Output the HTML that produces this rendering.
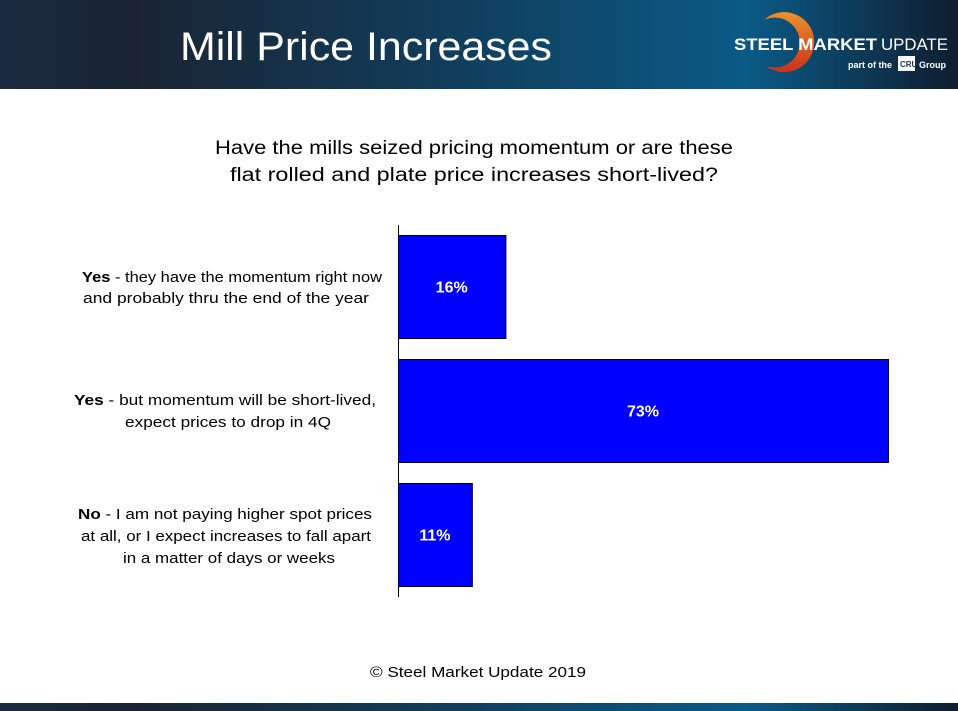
<!DOCTYPE html>
<html><head><meta charset="utf-8"><style>
html,body{margin:0;padding:0;background:#fff;}
svg{display:block;font-family:"Liberation Sans",sans-serif;}
</style></head><body>
<svg id="chart" width="958" height="711" viewBox="0 0 958 711">
<defs>
<linearGradient id="hg" x1="0" x2="1" y1="0" y2="0">
<stop offset="0" stop-color="#1a2a40"/><stop offset="0.14" stop-color="#1a2434"/>
<stop offset="0.5" stop-color="#10405f"/><stop offset="0.78" stop-color="#0a5a86"/>
<stop offset="1" stop-color="#0f1d30"/></linearGradient>
<linearGradient id="og" x1="0" x2="0" y1="0" y2="1">
<stop offset="0" stop-color="#f0902a"/><stop offset="1" stop-color="#c8321e"/></linearGradient>
</defs>
<rect x="0" y="0" width="958" height="89" fill="url(#hg)"/>
<text x="180" y="60" font-size="40" fill="#fff" textLength="372" lengthAdjust="spacingAndGlyphs">Mill Price Increases</text>
<g>
<path d="M764,20 A30,30 0 1,1 766,66 A25,25 0 1,0 764,20 Z" fill="url(#og)"/>
<text x="734" y="50" font-size="17" font-weight="bold" fill="#fff" textLength="143" lengthAdjust="spacingAndGlyphs">STEEL MARKET</text>
<text x="881" y="50" font-size="17" fill="#fff" textLength="67" lengthAdjust="spacingAndGlyphs">UPDATE</text>
<text x="848" y="68" font-size="9" font-weight="bold" fill="#fff">part of the</text>
<rect x="898" y="56" width="17" height="15" fill="#fff"/>
<text x="900" y="67" font-size="8" font-weight="bold" fill="#17324f">CRU</text>
<text x="919" y="68" font-size="9" font-weight="bold" fill="#fff">Group</text>
</g>
<text x="474" y="154" font-size="19" fill="#000" text-anchor="middle" textLength="518" lengthAdjust="spacingAndGlyphs">Have the mills seized pricing momentum or are these</text>
<text x="474" y="181" font-size="19" fill="#000" text-anchor="middle" textLength="488" lengthAdjust="spacingAndGlyphs">flat rolled and plate price increases short-lived?</text>
<g id="bars"></g>
<line x1="398.5" y1="225" x2="398.5" y2="597" stroke="#000" stroke-width="1"/>
<g font-size="15" fill="#000" text-anchor="middle">
<text x="232" y="282" textLength="300" lengthAdjust="spacingAndGlyphs"><tspan font-weight="bold">Yes</tspan> - they have the momentum right now</text>
<text x="226" y="303" textLength="286" lengthAdjust="spacingAndGlyphs">and probably thru the end of the year</text>
<text x="225" y="405" textLength="302" lengthAdjust="spacingAndGlyphs"><tspan font-weight="bold">Yes</tspan> - but momentum will be short-lived,</text>
<text x="228" y="427" textLength="206" lengthAdjust="spacingAndGlyphs">expect prices to drop in 4Q</text>
<text x="225" y="519" textLength="294" lengthAdjust="spacingAndGlyphs"><tspan font-weight="bold">No</tspan> - I am not paying higher spot prices</text>
<text x="226" y="541" textLength="290" lengthAdjust="spacingAndGlyphs">at all, or I expect increases to fall apart</text>
<text x="229" y="563" textLength="212" lengthAdjust="spacingAndGlyphs">in a matter of days or weeks</text>
</g>
<text x="478" y="677" font-size="15" fill="#000" text-anchor="middle" textLength="216" lengthAdjust="spacingAndGlyphs">© Steel Market Update 2019</text>
<rect x="0" y="703" width="958" height="8" fill="url(#hg)"/>
</svg>
<script>
const categories = ["Yes - momentum thru year end", "Yes - short-lived", "No"];
const values = [16, 73, 11];
const valueLabels = ["16%", "73%", "11%"];
const NS = "http://www.w3.org/2000/svg";
const x0 = 398, pxPer = 490 / 73;
const xScale = v => x0 + v * pxPer;
const yTop = i => 235 + i * 124;
const barH = 103;
const g = document.getElementById("bars");
values.forEach((v, i) => {
  const r = document.createElementNS(NS, "rect");
  r.setAttribute("x", x0 + 0.5);
  r.setAttribute("y", yTop(i) + 0.5);
  r.setAttribute("width", xScale(v) - x0);
  r.setAttribute("height", barH);
  r.setAttribute("fill", "#0000ff");
  r.setAttribute("stroke", "#000");
  r.setAttribute("stroke-width", "1");
  
  
  g.appendChild(r);
  const t = document.createElementNS(NS, "text");
  t.setAttribute("x", (x0 + xScale(v)) / 2);
  t.setAttribute("y", yTop(i) + barH / 2 + 6);
  t.setAttribute("text-anchor", "middle");
  t.setAttribute("font-size", "16");
  t.setAttribute("font-weight", "bold");
  t.setAttribute("fill", "#fff");
  t.textContent = valueLabels[i];
  
  
  g.appendChild(t);
});
</script>
</body></html>
